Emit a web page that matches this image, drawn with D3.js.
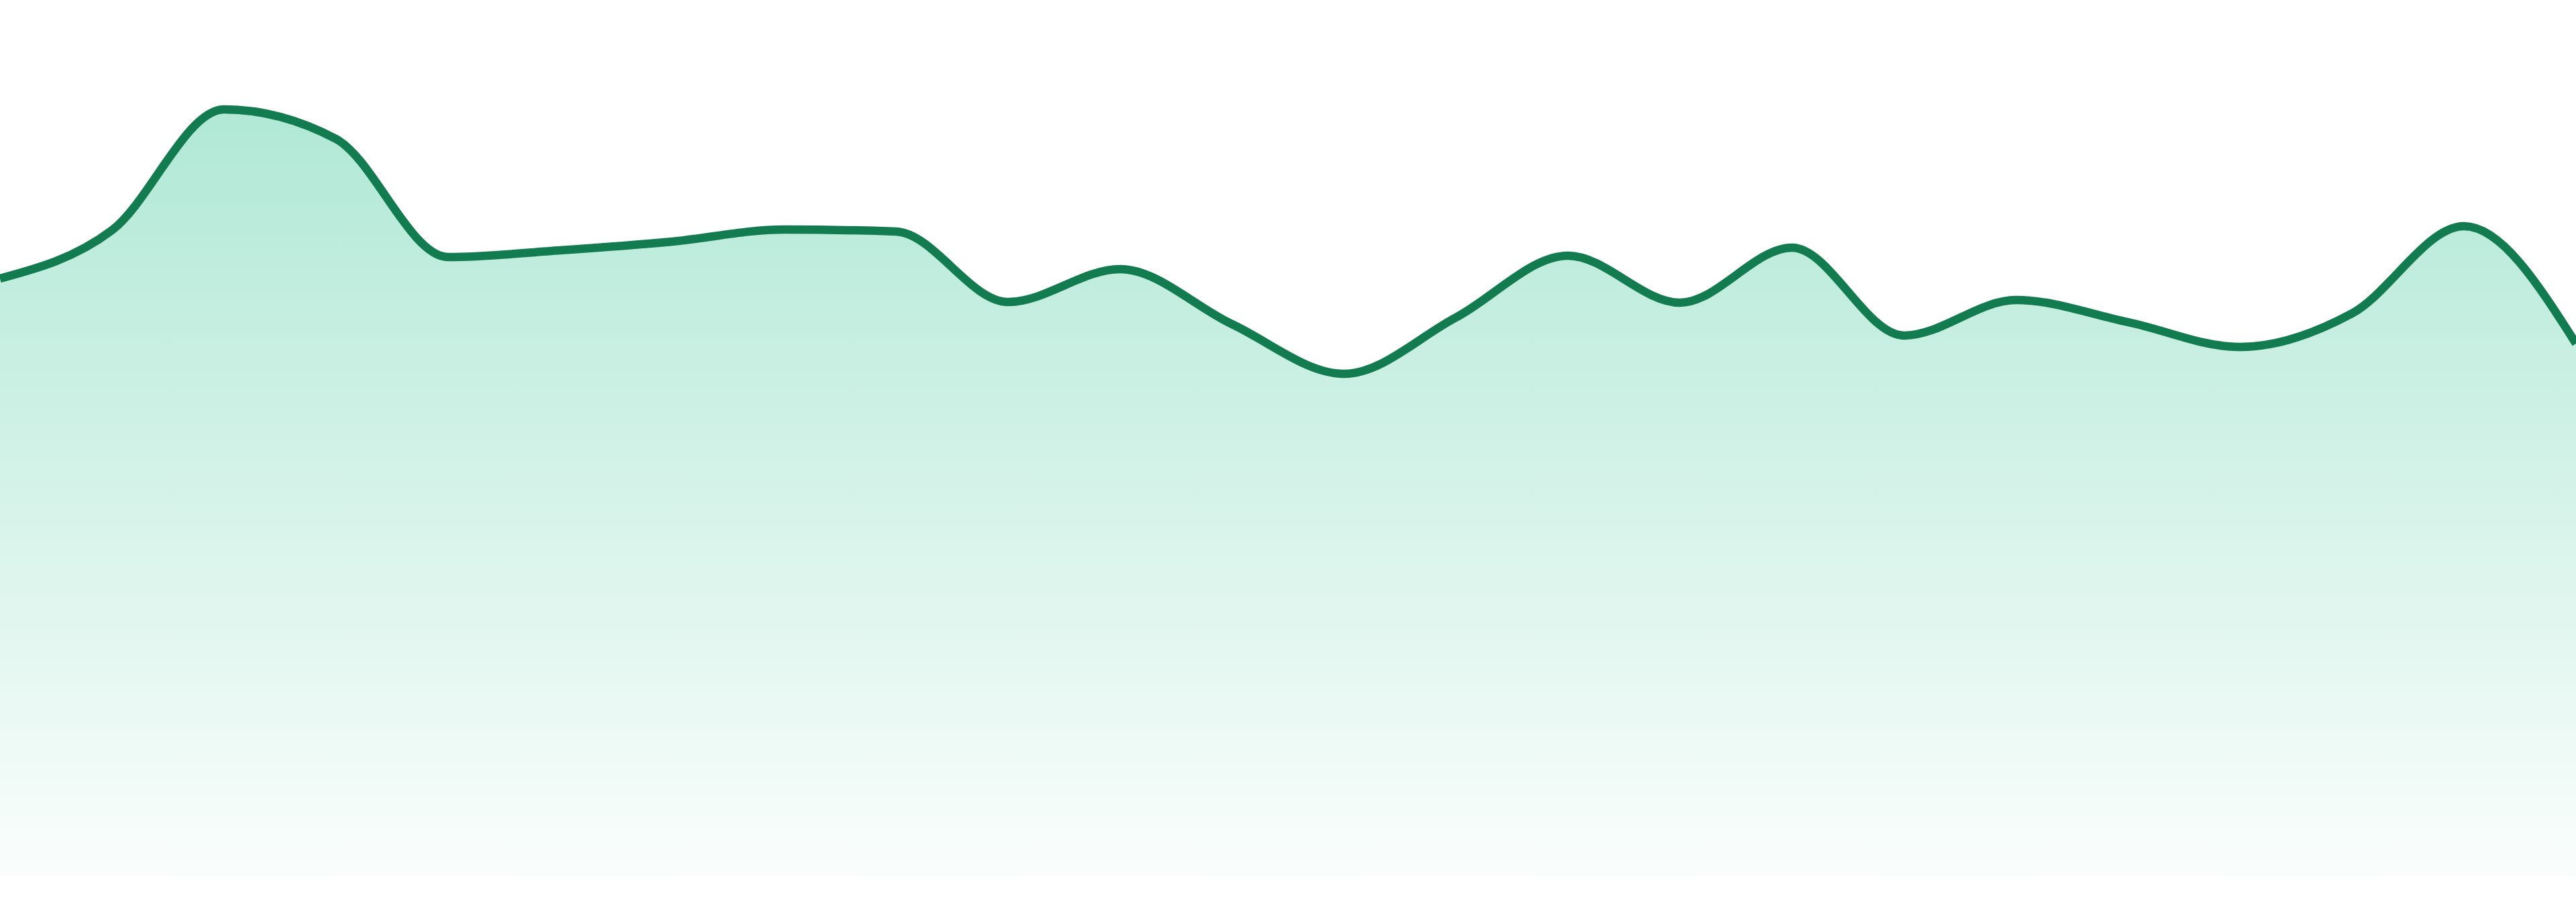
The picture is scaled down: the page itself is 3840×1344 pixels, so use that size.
<!DOCTYPE html>
<html>
<head>
<meta charset="utf-8">
<script src="https://cdn.jsdelivr.net/npm/d3@7"></script>
<style>
  html, body { margin: 0; padding: 0; background: #ffffff; }
  svg { display: block; }
</style>
</head>
<body>
<svg id="chart"></svg>
<script>
// one value per step
const steps = d3.range(24);
const values = [890, 962, 1142, 1098, 922, 932, 945, 963, 960, 855, 904, 822,
                748, 832, 924, 854, 936, 805, 858, 825, 788, 838, 968, 793];

const width = 3840, height = 1344;
const bottom = 1305;

const svg = d3.select('#chart')
    .attr('width', width)
    .attr('height', height);

const x = d3.scaleLinear()
    .domain([0, steps.length - 1])
    .range([0, width]);

const y = d3.scaleLinear()
    .domain([0, bottom])
    .range([bottom, 0]);

const grad = svg.append('defs').append('linearGradient')
    .attr('id', 'fillGrad')
    .attr('x1', 0).attr('y1', 0)
    .attr('x2', 0).attr('y2', 1);
grad.append('stop').attr('offset', '0%')
    .attr('stop-color', '#10b981').attr('stop-opacity', 0.33);
grad.append('stop').attr('offset', '100%')
    .attr('stop-color', '#10b981').attr('stop-opacity', 0.02);

const area = d3.area()
    .x((d, i) => x(steps[i]))
    .y0(y(0))
    .y1(d => y(d))
    .curve(d3.curveMonotoneX);

const line = d3.line()
    .x((d, i) => x(steps[i]))
    .y(d => y(d))
    .curve(d3.curveMonotoneX);

svg.append('path')
    .datum(values)
    .attr('d', area)
    .attr('fill', 'url(#fillGrad)');

svg.append('path')
    .datum(values)
    .attr('d', line)
    .attr('fill', 'none')
    .attr('stroke', '#127b4f')
    .attr('stroke-width', 12.5)
    .attr('stroke-linejoin', 'round');
</script>
</body>
</html>
